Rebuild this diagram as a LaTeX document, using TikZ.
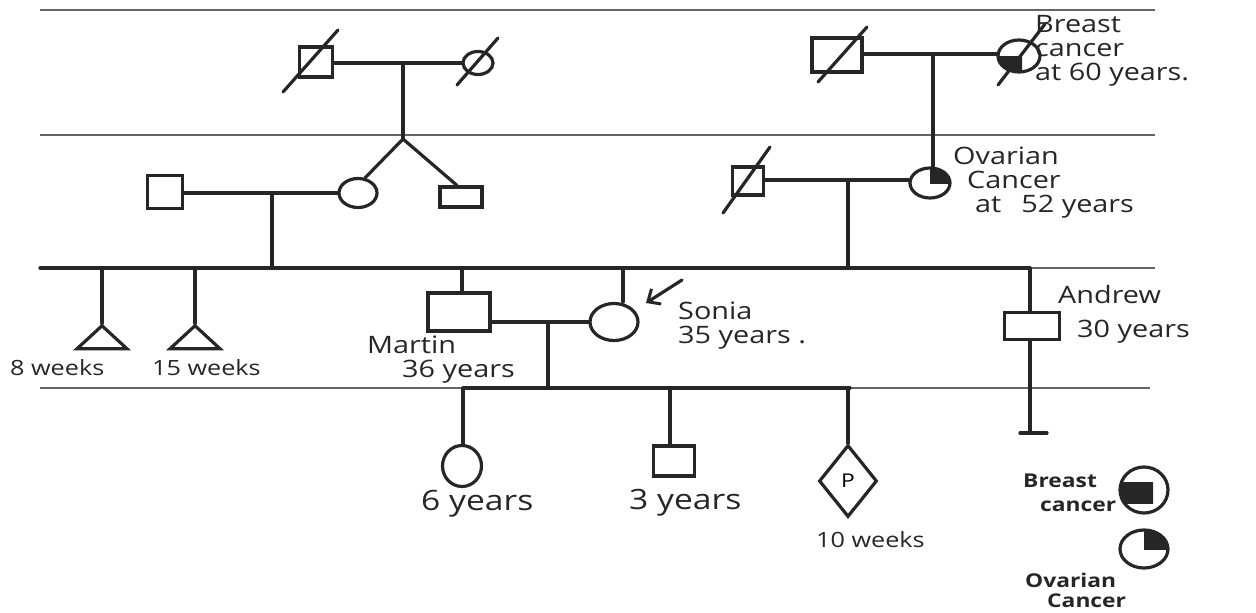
\documentclass[tikz,border=0pt]{standalone}
\usepackage{fontspec}
\setmainfont[FakeStretch=1.2]{Open Sans}
\usetikzlibrary{shapes.geometric,arrows.meta,calc}
\begin{document}
\begin{tikzpicture}[x=1pt,y=-1pt,
  gen/.style={draw=black!60,line width=1.3pt},
  ln/.style={draw=black!85,line width=3.2pt,line cap=round},
  male/.style={rectangle,draw=black!85,line width=3.2pt,inner sep=0pt},
  fem/.style={ellipse,draw=black!85,line width=3.2pt,inner sep=0pt},
  lost/.style={isosceles triangle,isosceles triangle apex angle=90,isosceles triangle stretches,shape border rotate=90,draw=black!85,line width=3.2pt,inner sep=0pt,minimum height=23pt,minimum width=50pt},
  unk/.style={diamond,draw=black!85,line width=3.2pt,inner sep=0pt,minimum width=58pt,minimum height=72pt},
  lbl/.style={font=\fontsize{24}{24}\selectfont,align=left,inner sep=0pt,text=black!85},
  lblw/.style={lbl,font=\fontsize{21}{24}\selectfont},
  lblb/.style={lbl,font=\fontsize{28}{28}\selectfont},
  leg/.style={font=\bfseries\fontsize{19}{20}\selectfont,align=left,inner sep=0pt,text=black!85}
]
\useasboundingbox (0,0) rectangle (1256,613);
% generation lines
\coordinate (g1a) at (40,10);  \coordinate (g1b) at (1155,10);
\coordinate (g2a) at (40,135); \coordinate (g2b) at (1155,135);
\coordinate (g3a) at (40,268); \coordinate (g3b) at (1155,268);
\coordinate (g4a) at (40,388); \coordinate (g4b) at (1150,388);
\draw[gen] (g1a) -- (g1b);
\draw[gen] (g2a) -- (g2b);
\draw[gen] (g3a) -- (g3b);
\draw[gen] (g4a) -- (g4b);

% ---- Generation I left
\node[male,minimum width=33pt,minimum height=30pt] (a1) at (316,62) {};
\node[fem,minimum width=30pt,minimum height=23pt] (a2) at (478,63) {};
\draw[ln] ([shift={(-33,30)}]a1.center) -- ([shift={(22,-32)}]a1.center);
\draw[ln] ([shift={(-21,22)}]a2.center) -- ([shift={(20,-25)}]a2.center);
\coordinate (m1) at (403,63);
\coordinate (t1) at (403,139);
\draw[ln] (a1.east |- m1) -- (a2.west);
\draw[ln] (m1) -- (t1);

% ---- Generation II left
\node[male,minimum width=35pt,minimum height=33pt] (b1) at (165,192) {};
\node[fem,minimum width=38pt,minimum height=29pt] (b2) at (358,193) {};
\node[male,minimum width=42pt,minimum height=20pt] (b3) at (461,197) {};
\draw[ln] (t1) -- (b2.65);
\draw[ln] (t1) -- ([xshift=-4pt]b3.north);
\draw[ln] (b1.east |- b2.west) -- (b2.west);
\coordinate (m2) at (272,193);
\coordinate (s2) at (272,268);
\draw[ln] (m2) -- (s2);

% ---- Generation I right
\node[male,minimum width=50pt,minimum height=34pt] (c1) at (837,55) {};
\node[fem,minimum width=42pt,minimum height=32pt] (c2) at (1019,56) {};
\begin{scope}
\clip ([xshift=3pt]c2.center) rectangle ++(-28,20);
\fill[black!85] (c2.center) ellipse[x radius=21,y radius=16];
\end{scope}
\draw[ln] ([shift={(-19,27)}]c1.center) -- ([shift={(30,-28)}]c1.center);
\draw[ln] ([shift={(-21,29)}]c2.center) -- ([shift={(26,-32)}]c2.center);
\coordinate (m3) at (933,54);
\draw[ln] (c1.east |- m3) -- (c2.west |- m3);

% ---- Generation II right
\node[male,minimum width=31pt,minimum height=28pt] (c3) at (748,181) {};
\node[fem,minimum width=40pt,minimum height=30pt] (c4) at (930,183) {};
\begin{scope}
\clip (c4.center) rectangle ++(24,-18);
\fill[black!85] (c4.center) ellipse[x radius=20,y radius=15];
\end{scope}
\draw[ln] ([shift={(-25,32)}]c3.center) -- ([shift={(22,-34)}]c3.center);
\draw[ln] (m3) -- (m3 |- c4.north);
\coordinate (m4) at (848,180);
\draw[ln] (c3.east |- m4) -- (c4.west |- m4);
\coordinate (s4) at (848,268);
\draw[ln] (m4) -- (s4);

% ---- Generation III sibship line
\coordinate (sl) at (40,268);
\coordinate (sr) at (1030,268);
\draw[ln] (sl) -- (sr);
\node[lost] (f1) at (102,339) {};
\node[lost] (f2) at (195,339) {};
\draw[ln] (f1.apex |- sl) -- (f1.apex);
\draw[ln] (f2.apex |- sl) -- (f2.apex);
\node[male,minimum width=62pt,minimum height=38pt] (d1) at (459,312) {};
\node[fem,minimum width=48pt,minimum height=37pt] (d2) at (614,322) {};
\node[male,minimum width=55pt,minimum height=27pt] (d3) at (1032,326) {};
\coordinate (v1) at (462,268);
\coordinate (v2) at (623,268);
\draw[ln] (v1) -- (v1 |- d1.north);
\draw[ln] (v2) -- (v2 |- d2.north);
\coordinate (m5) at (548,322);
\draw[ln] (m5 -| d1.east) -- (d2.west);
\coordinate (s5) at (548,388);
\draw[ln] (m5) -- (s5);
\coordinate (at) at (1030,433);
\draw[ln] (sr) -- (sr |- d3.north);
\draw[ln] (sr |- d3.south) -- (at);
\draw[ln] ([xshift=-10pt]at) -- ([xshift=17pt]at);
\coordinate (arw) at (682,280);
\draw[ln,-{Straight Barb[length=10pt,width=18pt,line width=3pt]}] (arw) -- (646,303);

% ---- Generation IV
\coordinate (k1) at (463,388);
\coordinate (k2) at (670,388);
\coordinate (k3) at (848,388);
\draw[ln] (k1) -- (850,388);
\node[fem,minimum width=39pt,minimum height=41pt] (e1) at (462,466) {};
\node[male,minimum width=41pt,minimum height=30pt] (e2) at (674,461) {};
\node[unk] (e3) at (848,481) {\fontsize{19}{20}\selectfont P};
\draw[ln] (k1) -- (k1 |- e1.north);
\draw[ln] (k2) -- (k2 |- e2.north);
\draw[ln] (k3) -- (e3.north);

% ---- Labels
\node[lbl,anchor=north west] (tbc) at (1035,15) {Breast\\cancer\\at 60 years.};
\node[lbl,anchor=north west] (toc) at (953,147) {Ovarian\\\hspace*{14pt}Cancer\\\hspace*{22pt}at\hspace{20pt}52 years};
\node[lblw,anchor=north west] (t8) at (10,359) {8 weeks};
\node[lblw,anchor=north west] (t15) at (152,359) {15 weeks};
\node[lbl,anchor=north west] (tm) at (367,336) {Martin\\\hspace*{35pt}36 years};
\node[lbl,anchor=north west] (ts) at (678,302) {Sonia\\35 years .};
\node[lbl,anchor=north west] (ta) at (1058,285) {Andrew\\[10pt]\hspace*{19pt}30 years};
\node[lblb,anchor=north west] (t6) at (421,490) {6 years};
\node[lblb,anchor=north west] (t3) at (629,489) {3 years};
\node[lblw,anchor=north west] (t10) at (816,531) {10 weeks};

% ---- Legend
\node[fem,minimum width=48pt,minimum height=46pt] (L1) at (1144,490) {};
\begin{scope}
\clip ([shift={(-26,-8)}]L1.center) rectangle ++(35,21);
\fill[black!85] (L1.center) ellipse[x radius=24,y radius=23];
\end{scope}
\node[fem,minimum width=48pt,minimum height=38pt] (L2) at (1144,549) {};
\begin{scope}
\clip (L2.center) rectangle ++(26,-21);
\fill[black!85] (L2.center) ellipse[x radius=24,y radius=19];
\end{scope}
\node[leg,anchor=north west] (tl1) at (1023,474) {Breast\\[4pt]\hspace*{17pt}cancer};
\node[leg,anchor=north west] (tl2) at (1025,573) {Ovarian\\\hspace*{22pt}Cancer};
\end{tikzpicture}
\end{document}
